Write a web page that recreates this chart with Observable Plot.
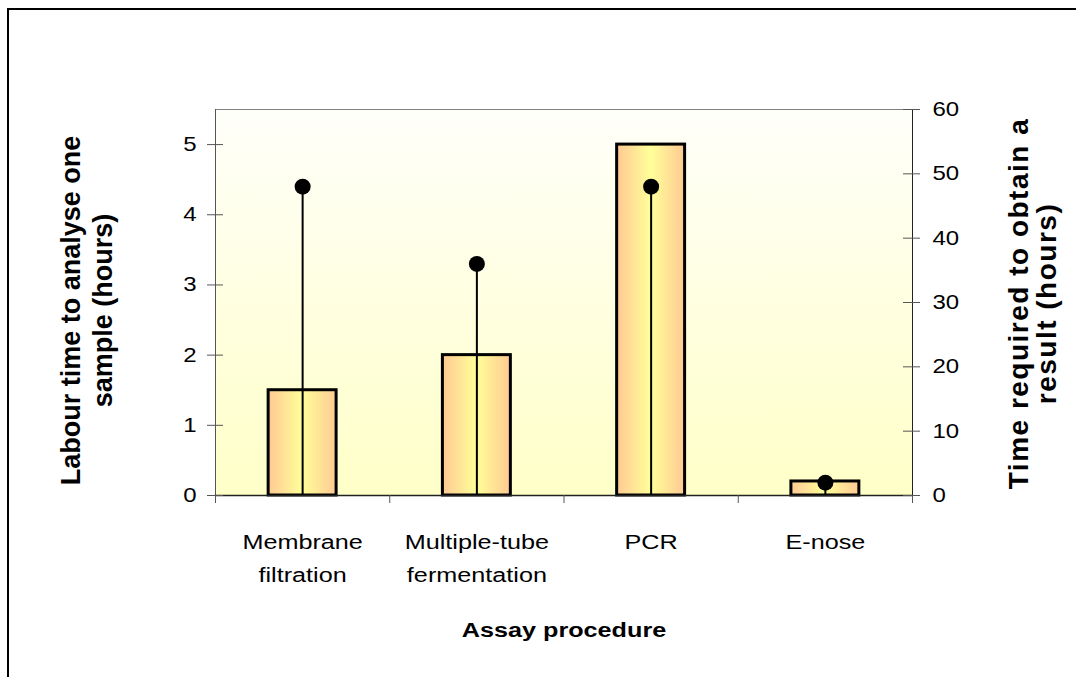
<!DOCTYPE html>
<html>
<head>
<meta charset="utf-8">
<script src="https://cdn.jsdelivr.net/npm/d3@7"></script>
<script src="https://cdn.jsdelivr.net/npm/@observablehq/plot@0.6"></script>
<style>
  html, body { margin: 0; padding: 0; background: #fff; overflow: hidden; }
  #wrap { position: relative; width: 1076px; height: 677px; }
  #border { position: absolute; left: 7px; top: 8px; width: 1200px; height: 800px; border-left: 2px solid #000; border-top: 2px solid #000; box-sizing: border-box; }
  #chart { position: absolute; left: 0; top: 0; }
</style>
</head>
<body>
<div id="wrap"><div id="border"></div><div id="chart"></div></div>
<script>
// ---- data ----
const categories = ["Membrane\nfiltration", "Multiple-tube\nfermentation", "PCR", "E-nose"];
const labourHours = [1.5, 2, 5, 0.2];      // left axis (bars)
const resultHours = [48, 36, 48, 2];       // right axis (dots)
const leftTicks = [0, 1, 2, 3, 4, 5];
const rightTicks = [0, 10, 20, 30, 40, 50, 60];
const leftMax = 5.5;
const rightMax = 60;
const xTitle = "Assay procedure";
const leftTitle = "Labour time to analyse one\nsample (hours)";
const rightTitle = "Time required to obtain a\nresult (hours)";

// ---- layout ----
const W = 1076, H = 677;
const mL = 215, mR = 164, mT = 109, mB = 182;
const plotW = W - mL - mR, plotH = H - mT - mB;
const halfBar = 0.195;
const toLeft = v => v * leftMax / rightMax;
const font = "'Liberation Sans', Arial, sans-serif";

const data = categories.map((cat, i) => ({cat, i, labour: labourHours[i], result: resultHours[i]}));
const boundaries = d3.range(categories.length + 1);

const svg = Plot.plot({
  width: W, height: H,
  marginLeft: mL, marginRight: mR, marginTop: mT, marginBottom: mB,
  style: {fontFamily: font, color: "#000", background: "transparent", overflow: "visible"},
  x: {type: "linear", domain: [0, categories.length], axis: null},
  y: {domain: [0, leftMax], axis: null},
  marks: [
    Plot.frame({fill: "url(#bgGrad)", stroke: "#808080"}),
    Plot.rect(data, {
      x1: d => d.i + 0.5 - halfBar, x2: d => d.i + 0.5 + halfBar,
      y1: 0, y2: d => d.labour,
      fill: "url(#barGrad)", stroke: "#000", strokeWidth: 3
    }),
    Plot.ruleX(data, {x: d => d.i + 0.5, y1: 0, y2: d => toLeft(d.result), stroke: "#000", strokeWidth: 2}),
    Plot.dot(data, {x: d => d.i + 0.5, y: d => toLeft(d.result), r: 8, fill: "#000", stroke: "none"}),
    // axis lines
    Plot.ruleX([0], {stroke: "#555"}),
    Plot.ruleY([0], {stroke: "#222", strokeWidth: 1.5}),
    Plot.ruleX([categories.length], {stroke: "#222"}),
    // ticks crossing axes
    Plot.ruleY(leftTicks, {y: d => d, insetLeft: -8, insetRight: plotW - 8, stroke: "#555"}),
    Plot.ruleY(rightTicks, {y: d => toLeft(d), insetLeft: plotW - 9, insetRight: -8, stroke: "#555"}),
    Plot.ruleX(boundaries, {x: d => d, insetTop: plotH, insetBottom: -8, stroke: "#555"}),
    // tick labels
    Plot.text(leftTicks, {y: d => d, frameAnchor: "left", dx: -19, textAnchor: "end", text: d => String(d), fontSize: 20, fill: "#000"}),
    Plot.text(rightTicks, {y: d => toLeft(d), frameAnchor: "right", dx: 20, textAnchor: "start", text: d => String(d), fontSize: 20, fill: "#000"}),
    // category labels
    Plot.text(data, {x: d => d.i + 0.5, frameAnchor: "bottom", lineAnchor: "top", dy: 30, lineHeight: 1.57, text: d => d.cat, fontSize: 21, fill: "#000"}),
    // axis titles
    Plot.text([xTitle], {frameAnchor: "bottom", lineAnchor: "top", dy: 127, text: d => d, fontSize: 21, fontWeight: "bold", fill: "#000"}),
    Plot.text([leftTitle], {frameAnchor: "left", textAnchor: "middle", dx: 85 - mL, dy: 8, rotate: -90, lineHeight: 1.19, text: d => d, fontSize: 27, fontWeight: "bold", fill: "#000"}),
    Plot.text([rightTitle], {frameAnchor: "right", textAnchor: "middle", dx: 1033 - (W - mR), dy: 1, rotate: -90, lineHeight: 1.0, text: d => d, fontSize: 28, fontWeight: "bold", fill: "#000"})
  ]
});

// gradients
const defs = d3.select(svg).insert("defs", ":first-child");
const bg = defs.append("linearGradient").attr("id", "bgGrad").attr("x1", 0).attr("y1", 0).attr("x2", 0).attr("y2", 1);
bg.append("stop").attr("offset", "0%").attr("stop-color", "#fffffa");
bg.append("stop").attr("offset", "100%").attr("stop-color", "#ffffc8");
const bar = defs.append("linearGradient").attr("id", "barGrad").attr("x1", 0).attr("y1", 0).attr("x2", 1).attr("y2", 0);
bar.append("stop").attr("offset", "0%").attr("stop-color", "#ffc993");
bar.append("stop").attr("offset", "50%").attr("stop-color", "#ffff99");
bar.append("stop").attr("offset", "100%").attr("stop-color", "#ffc993");

// letter spacing for the right title (reference draws it wider)
svg.querySelectorAll("text").forEach(t => {
  if ((t.textContent || "").startsWith("Time required")) t.setAttribute("letter-spacing", "1.5px");
});

// horizontal stretch of upright text (the reference is rendered wide)
const sx = 1.2;
svg.querySelectorAll("text").forEach(t => {
  const tr = t.getAttribute("transform");
  if (tr && tr.includes("rotate")) return;
  if (tr) {
    t.setAttribute("transform", tr + ` scale(${sx},1)`);
  } else {
    const x = +(t.getAttribute("x") || 0), y = +(t.getAttribute("y") || 0);
    t.setAttribute("transform", `translate(${x},${y}) scale(${sx},1)`);
    t.setAttribute("x", 0); t.setAttribute("y", 0);
  }
});

document.getElementById("chart").appendChild(svg);
</script>
</body>
</html>
